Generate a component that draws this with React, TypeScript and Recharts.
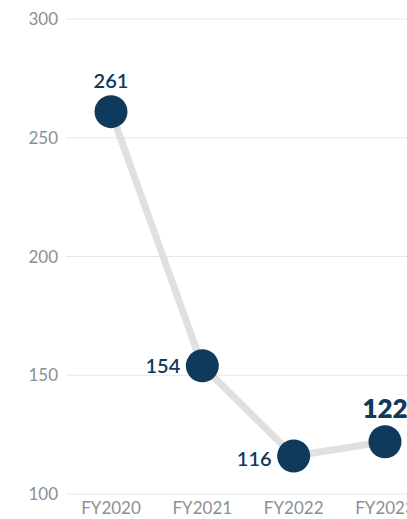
import { LineChart, Line, XAxis, YAxis, CartesianGrid, LabelList } from 'recharts'

const years = ['FY2020', 'FY2021', 'FY2022', 'FY2023']
const values = [261, 154, 116, 122]
const yTicks = [100, 150, 200, 250, 300]

// where each value label sits relative to its dot
const labelSpots = ['top', 'left', 'left', 'top']

const data = years.map((year, i) => ({ year, value: values[i] }))

const NAVY = '#0f3a5c'

const ValueLabel = (props: any) => {
  const { x, y, value, index } = props
  const spot = labelSpots[index]
  const last = index === values.length - 1
  if (spot === 'left') {
    return (
      <text x={x - 22} y={y + 7 + (index === 2 ? 3 : 0)} textAnchor="end" fill={NAVY} fontSize={20} fontWeight={600} fontFamily="Lato">
        {value}
      </text>
    )
  }
  return (
    <text x={x} y={y - 24} textAnchor="middle" fill={NAVY} fontSize={last ? 26 : 20} fontWeight={last ? 800 : 600} fontFamily="Lato">
      {value}
    </text>
  )
}

export default function App() {
  return (
    <div style={{ position: 'fixed', left: 0, top: 0, width: 407, height: 519, overflow: 'hidden', background: '#fff' }}>
      <LineChart width={430} height={519} data={data} margin={{ top: 19, right: 0, left: 0, bottom: 0 }}>
        <CartesianGrid vertical={false} stroke="#e6e6e6" />
        <XAxis
          dataKey="year"
          axisLine={false}
          tickLine={false}
          height={25}
          interval={0}
          padding={{ left: 45, right: 45 }}
          tick={{ fontSize: 17, fill: '#8a8f94', fontFamily: 'Lato' }}
        />
        <YAxis
          domain={[100, 300]}
          ticks={yTicks}
          axisLine={false}
          tickLine={false}
          width={66}
          tick={{ fontSize: 17, fill: '#8a8f94', fontFamily: 'Lato' }}
        />
        <Line
          dataKey="value"
          stroke="#e0e0e0"
          strokeWidth={7}
          dot={{ r: 16.5, fill: NAVY, stroke: NAVY, strokeWidth: 0 }}
          activeDot={false}
          isAnimationActive={false}
        >
          <LabelList dataKey="value" content={<ValueLabel />} />
        </Line>
      </LineChart>
    </div>
  )
}
